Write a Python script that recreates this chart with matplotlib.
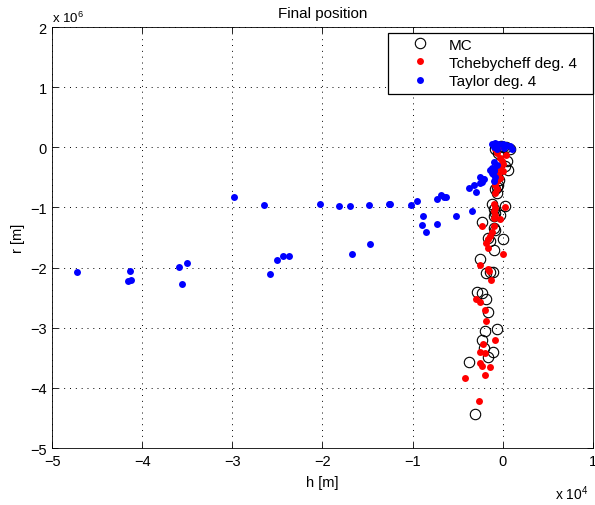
import numpy as np
import matplotlib.pyplot as plt
from matplotlib.patches import Rectangle
from matplotlib.ticker import FuncFormatter, MultipleLocator

plt.rcParams['font.family'] = ['Liberation Sans', 'DejaVu Sans']
plt.rcParams['mathtext.fontset'] = 'custom'
plt.rcParams['mathtext.rm'] = 'Liberation Sans'

# final positions: h in units of 1e4 m, r in units of 1e6 m
mc_h = [0.01, 0.08, -0.05, 0.05, -0.03, 0.03, 0.06, -0.06, -0.08, -0.06,
        -0.02, 0.04, -0.08, -0.04, -0.05, -0.06,
        0.03, -0.12, -0.10, -0.08, -0.10, -0.03, -0.23, -0.10, -0.08, -0.16,
        -0.14, 0.01, -0.10, -0.25,
        -0.18, -0.14, -0.11, -0.28, -0.23, -0.18, -0.16, -0.06, -0.19, -0.23,
        -0.21, -0.11, -0.16, -0.37, -0.31]
mc_r = [0.0, -0.03, -0.09, -0.23, -0.26, -0.31, -0.37, -0.45, -0.70, -0.76,
        0.02, 0.01, -0.02, -0.55, -0.62, -0.66,
        -0.98, -0.95, -1.03, -1.09, -1.15, -1.12, -1.24, -1.34, -1.37, -1.50,
        -1.56, -1.53, -1.70, -1.86,
        -2.09, -2.08, -2.08, -2.40, -2.42, -2.53, -2.74, -3.02, -3.05, -3.20,
        -3.33, -3.41, -3.48, -3.57, -4.43]

tch_h = [-0.08, -0.06, -0.03, -0.01, 0.01, -0.03, 0.01, -0.05, -0.03, -0.06,
         -0.08, -0.06, -0.08, 0.0, -0.04, 0.04,
         -0.10, -0.08, -0.10, -0.08, -0.10, -0.03, -0.23, -0.10, -0.12, -0.14,
         -0.16, -0.18, -0.16, 0.01, 0.03,
         -0.25, -0.16, -0.15, -0.13, -0.29, -0.25, -0.19, -0.18, -0.08, -0.22,
         -0.25, -0.20, -0.25, -0.23, -0.14, -0.19, -0.42, -0.26]
tch_r = [-0.03, -0.09, -0.17, -0.23, -0.28, -0.34, -0.39, -0.45, -0.51, -0.56,
         -0.62, -0.70, -0.76, 0.0, 0.02, -0.12,
         -0.95, -1.01, -1.06, -1.12, -1.17, -1.20, -1.31, -1.31, -1.40, -1.48,
         -1.53, -1.59, -1.67, -1.78, -1.00,
         -1.96, -2.02, -2.06, -2.20, -2.53, -2.57, -2.71, -2.88, -3.20, -3.27,
         -3.41, -3.42, -3.59, -3.63, -3.66, -3.78, -3.84, -4.21]

tay_h = [-4.73, -4.14, -4.16, -4.13, -3.59, -3.51, -3.56, -2.98, -2.65, -2.58,
         -2.51, -2.44, -2.37, -2.03, -1.82, -1.70, -1.67, -1.48, -1.47, -1.26,
         -1.25, -1.02, -0.95, -0.88, -0.89, -0.85, -0.73, -0.73, -0.68, -0.65,
         -0.63, -0.52, -0.34, -0.37, -0.32, -0.29, -0.25, -0.23, -0.22, -0.14,
         -0.10, -0.12, -0.10,
         -0.12, -0.08, -0.04, 0.0, 0.04, 0.08, 0.10, -0.10, -0.06, 0.02,
         -0.12, -0.10, -0.08, -0.25, -0.21, -0.09, -0.06, -0.11]
tay_r = [-2.07, -2.05, -2.23, -2.21, -1.99, -1.93, -2.28, -0.82, -0.96, -2.10,
         -1.87, -1.81, -1.81, -0.94, -0.98, -0.98, -1.77, -0.96, -1.60, -0.94,
         -0.94, -0.96, -0.90, -1.15, -1.29, -1.40, -0.86, -1.27, -0.80, -0.83,
         -0.83, -1.15, -1.06, -0.67, -0.63, -0.74, -0.60, -0.58, -0.53, -0.37,
         -0.40, -0.42, -0.56,
         0.06, 0.08, 0.05, 0.06, 0.04, 0.02, -0.02, 0.0, -0.03, -0.01,
         -0.34, -0.37, -0.50, -0.50, -0.53, -0.25, -0.30, -0.45]

mc_h = np.array(mc_h) * 1e4
mc_r = np.array(mc_r) * 1e6
tch_h = np.array(tch_h) * 1e4
tch_r = np.array(tch_r) * 1e6
tay_h = np.array(tay_h) * 1e4
tay_r = np.array(tay_r) * 1e6


def fmt(scale):
    # integer tick label with a real minus sign
    def f(v, p):
        n = int(round(v / scale))
        return ('\u2212%d' % -n) if n < 0 else '%d' % n
    return FuncFormatter(f)


fig = plt.figure(figsize=(5.95, 5.06), dpi=100)
ax = fig.add_axes([0.088, 0.1126, 0.908, 0.832])

ax.plot(mc_h, mc_r, 'o', ms=7.5, mfc='none', mec='k', mew=0.8, label='MC')
ax.plot(tch_h, tch_r, 'o', ms=5, mfc='r', mec='r', mew=0, label='Tchebycheff deg. 4')
ax.plot(tay_h, tay_r, 'o', ms=5, mfc='b', mec='b', mew=0, label='Taylor deg. 4')

ax.set_xlim(-5e4, 1e4)
ax.set_ylim(-5e6, 2e6)
ax.xaxis.set_major_locator(MultipleLocator(1e4))
ax.yaxis.set_major_locator(MultipleLocator(1e6))
ax.xaxis.set_major_formatter(fmt(1e4))
ax.yaxis.set_major_formatter(fmt(1e6))
ax.tick_params(direction='in', top=True, right=True, length=4, width=0.6,
               labelsize=10.5, pad=4)
ax.grid(True, linestyle=(0, (1, 5)), color='k', linewidth=0.7)
for s in ax.spines.values():
    s.set_linewidth(0.6)

ax.set_title('Final position', fontsize=11, pad=7.5)
ax.set_xlabel('h [m]', fontsize=10.5, labelpad=5)
ax.set_ylabel('r [m]', fontsize=10.5, labelpad=4)
ax.text(0.0, 1.005, r'x 10$^6$', transform=ax.transAxes, fontsize=9.5,
        ha='left', va='bottom')
ax.text(0.93, -0.085, r'x 10$^4$', transform=ax.transAxes, fontsize=10,
        ha='left', va='top')

# legend box with square corners, flush with the right edge
x0, y0, y1 = 0.621, 0.840, 0.986
ax.add_patch(Rectangle((x0, y0), 1.0 - x0, y1 - y0, transform=ax.transAxes,
                       facecolor='w', edgecolor='k', lw=0.9, zorder=4,
                       clip_on=False))
leg = ax.legend(loc='upper left', bbox_to_anchor=(x0, y1), fontsize=11,
                frameon=False, borderaxespad=0, handlelength=3.58,
                handletextpad=0.1, labelspacing=0.28, borderpad=0.3)
leg.set_zorder(5)

fig.savefig('out.png', dpi=100)
